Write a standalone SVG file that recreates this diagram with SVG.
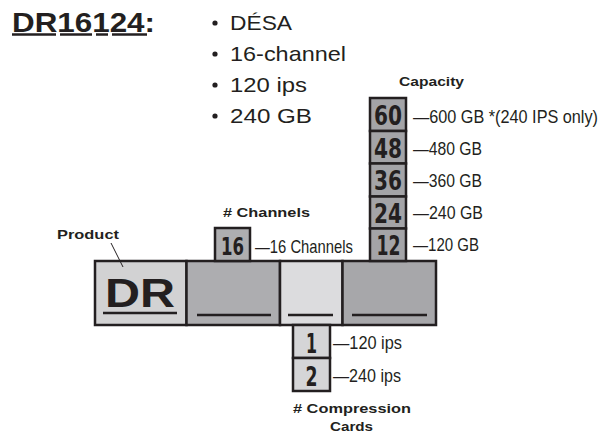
<svg xmlns="http://www.w3.org/2000/svg" width="609" height="435" viewBox="0 0 609 435">
<style>
.t{font-family:"Liberation Sans",Arial,sans-serif;fill:#231f20}
.b{font-weight:bold}
.lbl{font-family:"Liberation Sans",Arial,sans-serif;font-weight:bold;font-size:13.5px;fill:#231f20}
.num{font-family:"DejaVu Sans","Liberation Sans",sans-serif;font-weight:bold;fill:#231f20;text-anchor:middle}
.cond{font-family:"Liberation Sans",Arial,sans-serif;font-size:19px;fill:#231f20}
.box{stroke:#231f20;stroke-width:2.5}
.ul{stroke:#231f20;stroke-width:2.5}
</style>
<rect width="609" height="435" fill="#ffffff"/>

<g id="title">
<text class="t b" x="12" y="32" font-size="28" textLength="143" lengthAdjust="spacingAndGlyphs">DR16124:</text>
<line class="ul" x1="12" y1="34.5" x2="56" y2="34.5"/>
<line class="ul" x1="60" y1="34.5" x2="92" y2="34.5"/>
<line class="ul" x1="96" y1="34.5" x2="108" y2="34.5"/>
<line class="ul" x1="112" y1="34.5" x2="147" y2="34.5"/>
</g>

<g id="bullets">
<circle cx="215" cy="23" r="2.6" fill="#231f20"/>
<text class="t" x="230" y="30" font-size="21" textLength="62" lengthAdjust="spacingAndGlyphs">DÉSA</text>
<circle cx="215" cy="54" r="2.6" fill="#231f20"/>
<text class="t" x="230" y="61" font-size="21" textLength="116" lengthAdjust="spacingAndGlyphs">16-channel</text>
<circle cx="215" cy="85" r="2.6" fill="#231f20"/>
<text class="t" x="230" y="92" font-size="21" textLength="77" lengthAdjust="spacingAndGlyphs">120 ips</text>
<circle cx="215" cy="116" r="2.6" fill="#231f20"/>
<text class="t" x="230" y="123" font-size="21" textLength="82" lengthAdjust="spacingAndGlyphs">240 GB</text>
</g>

<g id="product-bar">
<rect class="box" x="95" y="261" width="91.5" height="64" fill="#d2d2d3"/>
<rect class="box" x="186.5" y="261" width="93.5" height="64" fill="#adadb0"/>
<rect class="box" x="280" y="261" width="62.5" height="64" fill="#dcdcde"/>
<rect class="box" x="342.5" y="261" width="93.5" height="64" fill="#a7a7aa"/>
<text class="t b" x="105" y="307" font-size="40" textLength="70" lengthAdjust="spacingAndGlyphs">DR</text>
<line class="ul" x1="103" y1="313" x2="177" y2="313"/>
<line class="ul" x1="197" y1="315" x2="271" y2="315"/>
<line class="ul" x1="288" y1="315" x2="333" y2="315"/>
<line class="ul" x1="352" y1="315" x2="427" y2="315"/>
</g>

<g id="product-label">
<text class="lbl" x="57" y="239" textLength="62" lengthAdjust="spacingAndGlyphs">Product</text>
</g>

<g id="channels">
<text class="lbl" x="223" y="217" textLength="87" lengthAdjust="spacingAndGlyphs"># Channels</text>
<rect class="box" x="215" y="228" width="35" height="33" fill="#aeaeb0"/>
<text class="num" x="232.5" y="255" font-size="25" textLength="23" lengthAdjust="spacingAndGlyphs">16</text>
<text class="cond" x="255" y="253" textLength="98" lengthAdjust="spacingAndGlyphs">—16 Channels</text>
</g>

<g id="capacity">
<text class="lbl" x="399" y="86" textLength="65" lengthAdjust="spacingAndGlyphs">Capacity</text>
<rect class="box" x="370" y="98" width="36" height="33" fill="#a4a4a7"/>
<rect class="box" x="370" y="131" width="36" height="32.5" fill="#a4a4a7"/>
<rect class="box" x="370" y="163.5" width="36" height="33" fill="#a4a4a7"/>
<rect class="box" x="370" y="196.5" width="36" height="32" fill="#a4a4a7"/>
<rect class="box" x="370" y="228.5" width="36" height="32.5" fill="#a4a4a7"/>
<text class="num" x="388" y="125" font-size="27" textLength="28" lengthAdjust="spacingAndGlyphs">60</text>
<text class="num" x="388" y="157.5" font-size="27" textLength="28" lengthAdjust="spacingAndGlyphs">48</text>
<text class="num" x="388" y="190" font-size="27" textLength="28" lengthAdjust="spacingAndGlyphs">36</text>
<text class="num" x="388" y="222.5" font-size="27" textLength="28" lengthAdjust="spacingAndGlyphs">24</text>
<text class="num" x="388.5" y="255" font-size="27" textLength="24" lengthAdjust="spacingAndGlyphs">12</text>
<text class="cond" font-size="15" transform="translate(413,123) scale(1,1.27)" x="0" y="0" style="font-size:15px" textLength="185" lengthAdjust="spacingAndGlyphs">—600 GB *(240 IPS only)</text>
<text class="cond" x="413" y="155" textLength="69" lengthAdjust="spacingAndGlyphs">—480 GB</text>
<text class="cond" x="413" y="187" textLength="69" lengthAdjust="spacingAndGlyphs">—360 GB</text>
<text class="cond" x="413" y="219" textLength="70" lengthAdjust="spacingAndGlyphs">—240 GB</text>
<text class="cond" x="413" y="251" textLength="66" lengthAdjust="spacingAndGlyphs">—120 GB</text>
</g>

<g id="compression">
<rect class="box" x="293" y="325" width="37" height="33" fill="#d5d5d7"/>
<rect class="box" x="293" y="358" width="37" height="33" fill="#d5d5d7"/>
<text class="num" x="311.5" y="352.5" font-size="26" textLength="11" lengthAdjust="spacingAndGlyphs">1</text>
<text class="num" x="311.5" y="385.5" font-size="26" textLength="12" lengthAdjust="spacingAndGlyphs">2</text>
<text class="cond" x="333" y="349" textLength="69" lengthAdjust="spacingAndGlyphs">—120 ips</text>
<text class="cond" x="333" y="382" textLength="68" lengthAdjust="spacingAndGlyphs">—240 ips</text>
<text class="lbl" x="293" y="413" textLength="118" lengthAdjust="spacingAndGlyphs"># Compression</text>
<text class="lbl" x="330" y="431" textLength="43" lengthAdjust="spacingAndGlyphs">Cards</text>
</g>

<g id="connectors">
<line x1="111" y1="243" x2="123" y2="267" stroke="#231f20" stroke-width="1"/>
</g>
</svg>
